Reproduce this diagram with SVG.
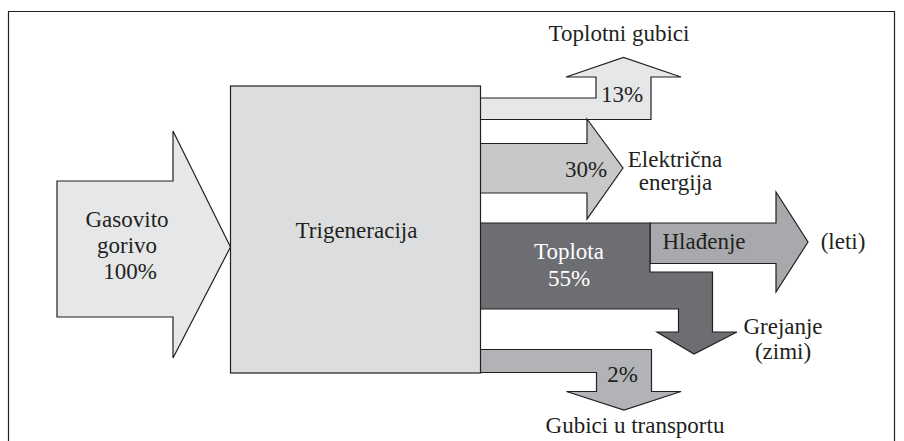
<svg xmlns="http://www.w3.org/2000/svg" width="904" height="441" viewBox="0 0 904 441">
<style>
.sh{stroke:#231f20;stroke-width:1.2;stroke-linejoin:miter}
text{font-family:'Liberation Serif','Times New Roman','DejaVu Serif',serif;font-size:23px;fill:#231f20}
.w{fill:#ffffff}
</style>
<rect x="0" y="0" width="904" height="441" fill="#ffffff"/>
<path d="M8.5,445 V11.5 H894.5 V445" fill="none" stroke="#231f20" stroke-width="1.2"/>
<g id="input">
<polygon class="sh" fill="#e6e7e8" points="57,181 173,181 173,131 230.5,247 173,358 173,317 57,317"/>
<text font-family="Liberation Serif, serif" x="127" y="227" text-anchor="middle">Gasovito</text>
<text font-family="Liberation Serif, serif" x="127" y="253" text-anchor="middle">gorivo</text>
<text font-family="Liberation Serif, serif" x="130" y="279" text-anchor="middle">100%</text>
</g>
<g id="connectors">
<polygon class="sh" fill="#e6e7e8" points="480,98 596,98 596,77 566,77 623.5,57.5 681,77 651,77 651,119.5 480,119.5"/>
<polygon class="sh" fill="#c7c8ca" points="480,143.5 587,143.5 587,119 623,168 587,219 587,193 480,193"/>
<polygon class="sh" fill="#a7a9ac" points="650,223 776,223 776,192 808,242 776,292 776,263.5 650,263.5"/>
<polygon class="sh" fill="#6d6e71" points="480,223 650,223 650,272 712.5,272 712.5,332 737,332 694,354 657,332 678.5,332 678.5,309 480,309"/>
<polygon class="sh" fill="#b1b3b6" points="480,349.5 651.5,349.5 651.5,391.5 681,391.5 624,410 566.5,391.5 596.5,391.5 596.5,372.5 480,372.5"/>
</g>
<g id="trigeneracija">
<rect class="sh" x="230.5" y="86" width="250" height="287" fill="#dcdddf"/>
<text font-family="Liberation Serif, serif" x="356.5" y="238" text-anchor="middle">Trigeneracija</text>
</g>
<g id="toplotni-gubici">
<text font-family="Liberation Serif, serif" x="619" y="41" text-anchor="middle">Toplotni gubici</text>
<text font-family="Liberation Serif, serif" x="622" y="102" text-anchor="middle">13%</text>
</g>
<g id="elektricna-energija">
<text font-family="Liberation Serif, serif" x="586" y="177" text-anchor="middle">30%</text>
<text font-family="Liberation Serif, serif" x="675" y="167" text-anchor="middle">Električna</text>
<text font-family="Liberation Serif, serif" x="675.5" y="190" text-anchor="middle">energija</text>
</g>
<g id="toplota">
<text class="w" font-family="Liberation Serif, serif" x="569" y="259" text-anchor="middle">Toplota</text>
<text class="w" font-family="Liberation Serif, serif" x="569" y="286" text-anchor="middle">55%</text>
</g>
<g id="hladjenje">
<text font-family="Liberation Serif, serif" x="704" y="249" text-anchor="middle">Hlađenje</text>
<text font-family="Liberation Serif, serif" x="843" y="249" text-anchor="middle">(leti)</text>
</g>
<g id="grejanje">
<text font-family="Liberation Serif, serif" x="783" y="334" text-anchor="middle">Grejanje</text>
<text font-family="Liberation Serif, serif" x="783" y="359" text-anchor="middle">(zimi)</text>
</g>
<g id="gubici-transport">
<text font-family="Liberation Serif, serif" x="622.5" y="382" text-anchor="middle">2%</text>
<text font-family="Liberation Serif, serif" x="635" y="433" text-anchor="middle">Gubici u transportu</text>
</g>
</svg>
